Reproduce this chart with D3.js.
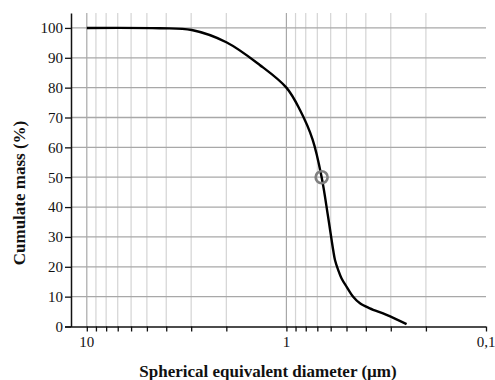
<!DOCTYPE html>
<html>
<head>
<meta charset="utf-8">
<script src="https://cdn.jsdelivr.net/npm/d3@7"></script>
<style>
  body { margin: 0; background: #fff; }
</style>
</head>
<body>
<div id="chart"></div>
<script>
// curve (diameter in µm, cumulate mass in %)
const diameter = [10, 4.31, 2.98, 2.0, 1.36, 1, 0.855, 0.739, 0.666, 0.619, 0.583, 0.571, 0.55, 0.529, 0.499, 0.463, 0.428, 0.382, 0.315, 0.25]
const mass = [100, 99.9, 99.3, 95.2, 87.6, 80, 72.5, 62.6, 50, 37, 25.6, 22.3, 18.9, 16.1, 13.3, 10, 7.8, 6.1, 3.9, 0.8]
const d50 = { d: 0.666, m: 50 }

const yTicks = [0, 10, 20, 30, 40, 50, 60, 70, 80, 90, 100]
const xLabels = [10, 1, 0.1]
const xLabelText = ['10', '1', '0,1']
const xGrid = [10, 9, 8, 7, 6, 5, 4, 3, 2, 1, 0.9, 0.8, 0.7, 0.6, 0.5, 0.4, 0.3, 0.2]
const xMajor = [10, 1]

const serif = 'Times, "Times New Roman", "Liberation Serif", "Noto Serif", "DejaVu Serif", FreeSerif, serif'
const width = 495, height = 380
const margin = { top: 13, right: 9, bottom: 53.5, left: 71 }

const svg = d3.select('#chart').append('svg')
  .attr('width', width)
  .attr('height', height)
  .style('font-family', serif)

const x = d3.scaleLog().domain([12, 0.1]).range([margin.left, width - margin.right])
const y = d3.scaleLinear().domain([0, 105]).range([height - margin.bottom, margin.top])

// vertical grid
svg.append('g')
  .selectAll('line')
  .data(xGrid)
  .join('line')
  .attr('x1', d => x(d)).attr('x2', d => x(d))
  .attr('y1', y(105)).attr('y2', y(0))
  .attr('stroke', d => xMajor.includes(d) ? '#a8a8a8' : '#d4d4d4')
  .attr('stroke-width', 1.2)

// horizontal grid
svg.append('g')
  .selectAll('line')
  .data(yTicks.filter(d => d > 0))
  .join('line')
  .attr('x1', x(12)).attr('x2', x(0.1))
  .attr('y1', d => y(d)).attr('y2', d => y(d))
  .attr('stroke', '#a8a8a8')
  .attr('stroke-width', 1.3)

// y axis
const yAxis = svg.append('g')
  .attr('transform', `translate(${margin.left},0)`)
  .call(d3.axisLeft(y).tickValues(yTicks).tickSize(6).tickPadding(2).tickSizeOuter(0))
yAxis.select('.domain').attr('stroke', '#111').attr('stroke-width', 1.5)
yAxis.selectAll('.tick line').attr('stroke', '#111').attr('stroke-width', 1.3)
yAxis.selectAll('.tick text').attr('font-size', 15).attr('fill', '#111')
  .style('font-family', serif)

// x axis
const xAxis = svg.append('g')
  .attr('transform', `translate(0,${y(0)})`)
  .call(d3.axisBottom(x).tickValues(xGrid.concat([0.1])).tickSize(5).tickFormat('').tickSizeOuter(0))
xAxis.select('.domain').attr('stroke', '#111').attr('stroke-width', 1.5)
  .attr('d', `M${margin.left - 6},0.5H${x(0.1)}`)
xAxis.selectAll('.tick line').attr('stroke', '#111').attr('stroke-width', 1.3)

svg.append('g')
  .selectAll('text')
  .data(xLabels)
  .join('text')
  .attr('x', d => x(d))
  .attr('y', y(0) + 20)
  .attr('text-anchor', 'middle')
  .attr('font-size', 15)
  .attr('fill', '#111')
  .style('font-family', serif)
  .text((d, i) => xLabelText[i])

// curve
const pts = diameter.map((d, i) => [x(d), y(mass[i])])
svg.append('path')
  .attr('d', d3.line().curve(d3.curveCatmullRom.alpha(0.5))(pts))
  .attr('fill', 'none')
  .attr('stroke', '#000')
  .attr('stroke-width', 2.4)

// d50 marker
svg.append('circle')
  .attr('cx', x(d50.d))
  .attr('cy', y(d50.m))
  .attr('r', 6)
  .attr('fill', 'none')
  .attr('stroke', '#808080')
  .attr('stroke-width', 2.6)

// titles
svg.append('text')
  .attr('x', 268)
  .attr('y', 377)
  .attr('text-anchor', 'middle')
  .attr('font-size', 17)
  .attr('font-weight', 'bold')
  .attr('fill', '#111')
  .style('font-family', serif)
  .text('Spherical equivalent diameter (µm)')

svg.append('text')
  .attr('transform', 'translate(25,193) rotate(-90)')
  .attr('text-anchor', 'middle')
  .attr('font-size', 17)
  .attr('font-weight', 'bold')
  .attr('fill', '#111')
  .style('font-family', serif)
  .text('Cumulate mass (%)')
</script>
</body>
</html>
